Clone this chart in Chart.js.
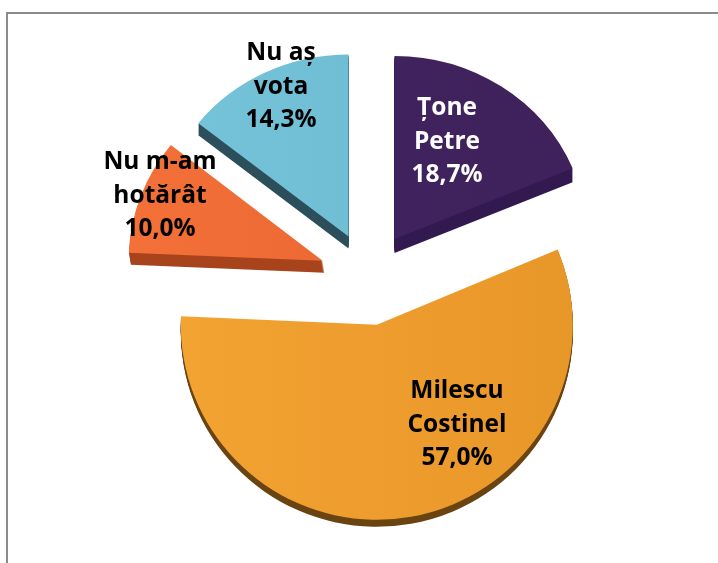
<!DOCTYPE html>
<html><head><meta charset="utf-8">
<script src="https://cdn.jsdelivr.net/npm/chart.js@4/dist/chart.umd.min.js"></script>
<style>
html,body{margin:0;padding:0;background:#fff;overflow:hidden}
#wrap{position:relative;width:718px;height:563px}
#frame{position:absolute;left:6px;top:12px;right:0;bottom:0;border-left:2px solid #8c8c8c;border-top:2px solid #8c8c8c}
canvas{position:absolute;left:0;top:0}
</style></head><body>
<div id="wrap"><div id="frame"></div><canvas id="c" width="718" height="563"></canvas></div>
<script>
const categories = [["Țone","Petre"],["Milescu","Costinel"],["Nu m-am","hotărât"],["Nu aș","vota"]];
const values = [18.7,57.0,10.0,14.3];

const gradFrom = ["#41235F","#F3A332","#F37039","#75C4DA"];
const gradTo   = ["#3F215C","#E79628","#E8632E","#6AB8CF"];
const sideCols = ["#331A50","#6A4412","#A8441D","#2C4F5B"];
const labelCols = ["#FFFFFF","#000000","#000000","#000000"];
const explode = [47,47.5,49,46];
const radX = [193,196,194,192];
const radY = [183,195,186,182];
const depth = [14,7,12,12];
const depthX = [0,0,2,0];
const labelX = [447,457,160,281];
const labelY = [115,398,169,60];
const lineGap = 33.5;

const faces = {
  id:'faces',
  beforeDatasetsDraw(chart){
    const ctx = chart.ctx, meta = chart.getDatasetMeta(0);
    meta.data.forEach((arc,i)=>{
      const mid = (arc.startAngle+arc.endAngle)/2, d = explode[i];
      const ax = arc.x+Math.cos(mid)*d, ay = arc.y+Math.sin(mid)*d;
      const r = arc.outerRadius;
      const put = (ox,oy,fill)=>{
        ctx.save();
        ctx.translate(ax+ox,ay+oy);
        ctx.scale(radX[i]/r,radY[i]/r);
        ctx.translate(-arc.x,-arc.y);
        const o = arc.options, keep = o.backgroundColor;
        if(fill) o.backgroundColor = fill;
        arc.draw(ctx);
        o.backgroundColor = keep;
        ctx.restore();
      };
      for(let k=depth[i];k>0;k--) put(depthX[i]*k/depth[i],k,sideCols[i]);
      put(0,0,null);
    });
    return false;
  },
  afterDraw(chart){
    const ctx = chart.ctx;
    ctx.save();
    ctx.font = 'bold 24.5px "Open Sans"';
    ctx.textAlign='center';
    ctx.textBaseline='alphabetic';
    categories.forEach((lines,i)=>{
      const all = lines.concat([values[i].toFixed(1).replace('.',',')+'%']);
      ctx.fillStyle = labelCols[i];
      all.forEach((t,k)=>ctx.fillText(t,labelX[i],labelY[i]+k*lineGap));
    });
    ctx.restore();
  }
};

new Chart(document.getElementById('c'),{
  type:'pie',
  data:{labels:categories.map(l=>l.join(' ')),datasets:[{
    data:values,
    borderWidth:0,
    clip:false,
    backgroundColor(c){
      const a=c.chart.chartArea;
      if(!a) return gradFrom[c.dataIndex];
      const g=c.chart.ctx.createLinearGradient(180,0,575,0);
      g.addColorStop(0,gradFrom[c.dataIndex]);
      g.addColorStop(1,gradTo[c.dataIndex]);
      return g;
    }
  }]},
  options:{
    responsive:false,animation:false,
    events:[],
    layout:{padding:{left:19,right:0,top:88,bottom:95}},
    plugins:{legend:{display:false},tooltip:{enabled:false}}
  },
  plugins:[faces]
});
</script>
</body></html>
